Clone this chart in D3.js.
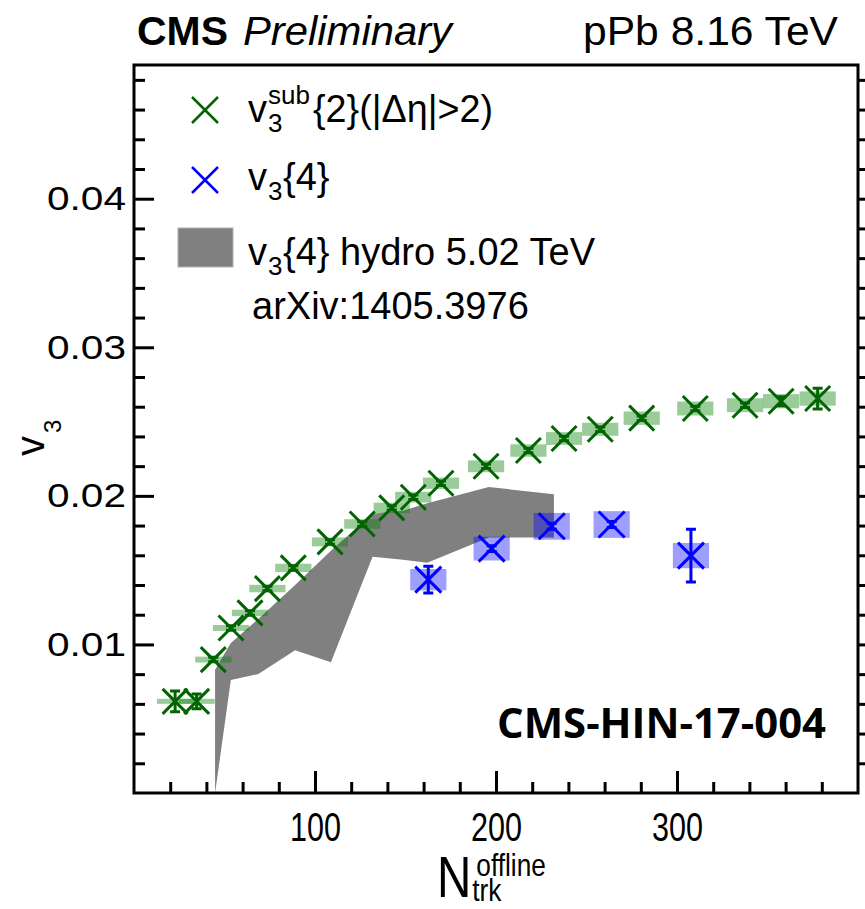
<!DOCTYPE html>
<html>
<head>
<meta charset="utf-8">
<script src="https://cdn.jsdelivr.net/npm/d3@7"></script>
<style>
body{margin:0;background:#fff}
svg{display:block}
text{font-family:"Liberation Sans",Arial,Helvetica,sans-serif;fill:#000}
</style>
</head>
<body>
<div id="chart"></div>
<script>
// v3 vs multiplicity, pPb 8.16 TeV

// v3sub{2}(|deta|>2)
var nTrkSub  = [22.7, 34.6, 43.8, 53.6, 64.1, 73.7, 88.0, 108.3, 126.1, 142.4, 154.3,
                169.6, 194.5, 217.9, 237.6, 257.6, 280.5, 310.1, 337.6, 357.5, 377.7];
var v3Sub    = [0.00617, 0.00617, 0.00898, 0.01111, 0.01212, 0.01376, 0.01515, 0.01690,
                0.01811, 0.01919, 0.01991, 0.02085, 0.02199, 0.02305, 0.02386, 0.02448,
                0.02523, 0.02588, 0.02610, 0.02637, 0.02655];
var v3SubStat = [0.0007, 0.0005, 0.00015, 0.00015, 0.00015, 0.00015, 0.00015, 0.00015,
                 0.00015, 0.00015, 0.00015, 0.00015, 0.00015, 0.00015, 0.00015, 0.00015,
                 0.00015, 0.00015, 0.00015, 0.0003, 0.0007];
var v3SubSys = [0.00017, 0.00017, 0.0002, 0.0002, 0.00022, 0.00025, 0.00028, 0.0003,
                0.00032, 0.00035, 0.00036, 0.00038, 0.0004, 0.00042, 0.00043, 0.00044,
                0.00045, 0.00047, 0.00047, 0.00048, 0.00048];

// v3{4}
var nTrk4    = [162.6, 197.6, 230.8, 263.9, 307.7];
var v34      = [0.01436, 0.01645, 0.01795, 0.01807, 0.01598];
var v34Stat  = [0.0009, 0.0002, 0.0002, 0.0002, 0.00177];
var v34Sys   = [0.00072, 0.0008, 0.0009, 0.0009, 0.00085];

// hydro v3{4} band, 5.02 TeV
var hydroN   = [44.8, 53.5, 68.5, 89, 108.8, 131.8, 148.6, 162, 196, 232];
var hydroLo  = [0, 0.0076, 0.0080, 0.0096, 0.0088, 0.0159, 0.0157, 0.0155, 0.0172, 0.0172];
var hydroHi  = [0.0083, 0.0101, 0.0117, 0.0140, 0.0163, 0.0188, 0.0190, 0.0195, 0.0206, 0.0201];

// ticks
var xMajor = [100, 200, 300];
var yMajor = [0.01, 0.02, 0.03, 0.04];

var W = 865, H = 909;
var green = "#006400", blue = "#0000ff";

var x = d3.scaleLinear().domain([0, 400]).range([134, 858]);
var y = d3.scaleLinear().domain([0, 0.049]).range([793, 65]);

var xMinor = d3.range(20, 400, 20).filter(function(d){ return d % 100 != 0; });
var yMinor = d3.range(1, 25).filter(function(i){ return i % 5 != 0; })
  .map(function(i){ return +(i * 0.002).toFixed(3); });

var svg = d3.select("#chart").append("svg")
  .attr("width", W).attr("height", H);

svg.append("clipPath").attr("id", "plotClip")
  .append("rect")
  .attr("x", x(0)).attr("y", y(0.049))
  .attr("width", x(400) - x(0)).attr("height", y(0) - y(0.049));

//////// text helpers ////////
function label(g, px, py, str, size, o){
  o = o || {};
  var t = g.append("text")
    .attr("x", px).attr("y", py)
    .attr("font-size", size)
    .attr("font-weight", o.weight || null)
    .attr("font-style", o.style || null)
    .attr("text-anchor", o.anchor || "start")
    .text(str);
  if (o.family) t.style("font-family", o.family);
  if (o.len) t.attr("textLength", o.len).attr("lengthAdjust", "spacingAndGlyphs");
  return t;
}

// one text made of absolutely placed pieces: [str, x, y, size]
function pieces(g, parts){
  var t = g.append("text");
  parts.forEach(function(p){
    t.append("tspan").attr("x", p[1]).attr("y", p[2]).attr("font-size", p[3]).text(p[0]);
  });
  return t;
}

function xMark(g, cx, cy, r, color, sw){
  g.append("path")
    .attr("d", "M" + (cx - r) + "," + (cy - r) + "L" + (cx + r) + "," + (cy + r) +
               "M" + (cx - r) + "," + (cy + r) + "L" + (cx + r) + "," + (cy - r))
    .attr("stroke", color).attr("stroke-width", sw).attr("fill", "none");
}

//////// axes ////////
function tidy(g){
  g.select(".domain").remove();
  g.selectAll("line").attr("stroke", "#000").attr("stroke-width", 3);
}

svg.append("g").attr("transform", "translate(" + x(0) + ",0)")
  .call(d3.axisLeft(y).tickValues(yMinor).tickSize(-11).tickFormat(""))
  .call(tidy);
var yAx = svg.append("g").attr("transform", "translate(" + x(0) + ",0)")
  .call(d3.axisLeft(y).tickValues(yMajor).tickSize(-20).tickPadding(8)
        .tickFormat(d3.format(".2f")))
  .call(tidy);
yAx.selectAll("text")
  .attr("font-size", 34).attr("font-family", null).attr("fill", "#000")
  .attr("textLength", 79).attr("lengthAdjust", "spacingAndGlyphs");

svg.append("g").attr("transform", "translate(" + x(400) + ",0)")
  .call(d3.axisRight(y).tickValues(yMinor.concat(yMajor)).tickSize(20).tickFormat(""))
  .call(tidy);

svg.append("g").attr("transform", "translate(0," + y(0) + ")")
  .call(d3.axisBottom(x).tickValues(xMinor).tickSize(-11).tickFormat(""))
  .call(tidy);
var xAx = svg.append("g").attr("transform", "translate(0," + y(0) + ")")
  .call(d3.axisBottom(x).tickValues(xMajor).tickSize(-22).tickFormat(d3.format("d")))
  .call(tidy);
xAx.selectAll("text")
  .attr("y", 48).attr("dy", null)
  .attr("font-size", 40).attr("font-family", null).attr("fill", "#000")
  .attr("textLength", 51).attr("lengthAdjust", "spacingAndGlyphs");

//////// data ////////
var plot = svg.append("g").attr("clip-path", "url(#plotClip)");

var band = d3.range(hydroN.length);
plot.append("path")
  .datum(band)
  .attr("fill", "#808080")
  .attr("d", d3.area()
    .x(function(i){ return x(hydroN[i]); })
    .y0(function(i){ return y(hydroLo[i]); })
    .y1(function(i){ return y(hydroHi[i]); }));

// systematic boxes (±10 in Ntrk)
var boxHalf = 10;
plot.selectAll("rect.sysSub").data(d3.range(nTrkSub.length)).enter()
  .append("rect").attr("class", "sysSub")
  .attr("x", function(i){ return x(nTrkSub[i] - boxHalf); })
  .attr("width", function(i){ return x(nTrkSub[i] + boxHalf) - x(nTrkSub[i] - boxHalf); })
  .attr("y", function(i){ return y(v3Sub[i] + v3SubSys[i]); })
  .attr("height", function(i){ return y(v3Sub[i] - v3SubSys[i]) - y(v3Sub[i] + v3SubSys[i]); })
  .attr("fill", "rgba(0,128,0,0.4)");

plot.selectAll("rect.sys4").data(d3.range(nTrk4.length)).enter()
  .append("rect").attr("class", "sys4")
  .attr("x", function(i){ return x(nTrk4[i] - boxHalf); })
  .attr("width", function(i){ return x(nTrk4[i] + boxHalf) - x(nTrk4[i] - boxHalf); })
  .attr("y", function(i){ return y(v34[i] + v34Sys[i]); })
  .attr("height", function(i){ return y(v34[i] - v34Sys[i]) - y(v34[i] + v34Sys[i]); })
  .attr("fill", "rgba(0,0,255,0.38)");

function errBar(g, cx, v, e, color){
  var y1 = y(v + e), y2 = y(v - e), c = 5;
  g.append("path")
    .attr("d", "M" + cx + "," + y1 + "L" + cx + "," + y2 +
               "M" + (cx - c) + "," + y1 + "L" + (cx + c) + "," + y1 +
               "M" + (cx - c) + "," + y2 + "L" + (cx + c) + "," + y2)
    .attr("stroke", color).attr("stroke-width", 3).attr("fill", "none");
}

nTrkSub.forEach(function(n, i){
  errBar(plot, x(n), v3Sub[i], v3SubStat[i], green);
  xMark(plot, x(n), y(v3Sub[i]), 12.5, green, 3);
});
nTrk4.forEach(function(n, i){
  errBar(plot, x(n), v34[i], v34Stat[i], blue);
  xMark(plot, x(n), y(v34[i]), 13, blue, 3);
});

// frame
svg.append("rect")
  .attr("x", x(0)).attr("y", y(0.049))
  .attr("width", x(400) - x(0)).attr("height", y(0) - y(0.049))
  .attr("fill", "none").attr("stroke", "#000").attr("stroke-width", 3);

//////// legend ////////
var leg = svg.append("g");
xMark(leg, 205, 110, 13, green, 2.5);
pieces(leg, [["v", 248, 122, 38], ["sub", 268, 104, 26], ["3", 268, 132, 26]]);
label(leg, 313, 122, "{2}(|\u0394\u03b7|>2)", 38, {len: 180});

xMark(leg, 205, 180, 13, blue, 2.5);
pieces(leg, [["v", 248, 190, 38], ["3", 268, 200, 26], ["{4}", 283, 190, 38]]);

leg.append("rect")
  .attr("x", 178).attr("y", 228).attr("width", 55).attr("height", 39)
  .attr("fill", "#808080").attr("stroke", "#b0b0b0").attr("stroke-width", 1);
pieces(leg, [["v", 248, 265, 38], ["3", 268, 275, 26], ["{4} hydro 5.02 TeV", 283, 265, 38]]);
label(leg, 252, 319, "arXiv:1405.3976", 38);

//////// header and titles ////////
label(svg, 137, 45, "CMS", 40, {weight: "bold", len: 91});
label(svg, 243, 45, "Preliminary", 40, {style: "italic", len: 209});
label(svg, 583, 45, "pPb 8.16 TeV", 40, {len: 255});

label(svg, 497, 738, "CMS-HIN-17-004", 41,
  {weight: "bold", family: "'Open Sans', 'Liberation Sans', sans-serif", len: 329});

// y title
var yt = svg.append("g").attr("transform", "translate(44,456) rotate(-90)");
pieces(yt, [["v", 0, 0, 40], ["3", 23, 17, 24]]);

// x title, narrow like the tick labels
var xt = svg.append("g").attr("transform", "translate(437,897) scale(0.82,1)");
pieces(xt, [["N", 0, 0, 58], ["offline", 48, -21, 32], ["trk", 43, 4, 32]]);
</script>
</body>
</html>
